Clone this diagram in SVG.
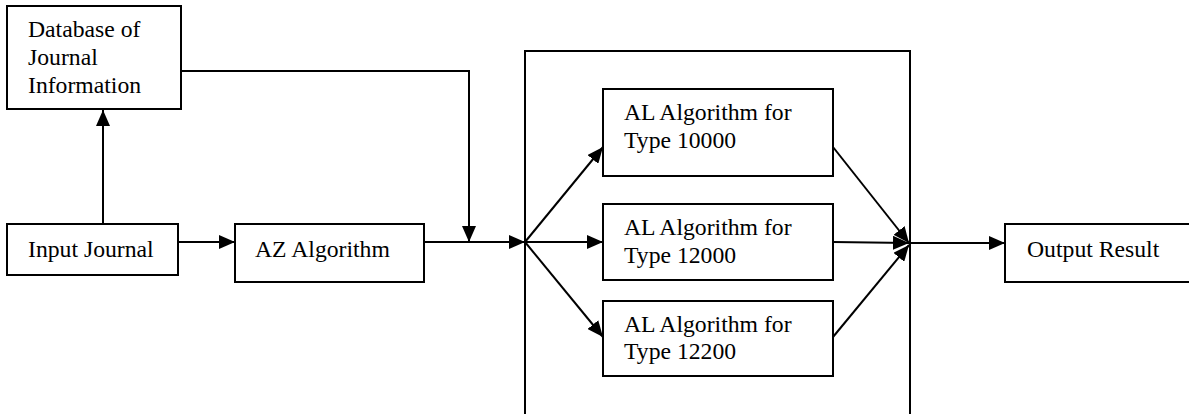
<svg xmlns="http://www.w3.org/2000/svg" width="1189" height="414" viewBox="0 0 1189 414">
<defs>
<style>
.box{fill:#fff;stroke:#000;stroke-width:2}
.ln{fill:none;stroke:#000;stroke-width:2}
.t{font-family:'Liberation Serif','Times New Roman','DejaVu Serif',serif;font-size:23.7px;fill:#000}
</style>
<marker id="ah" markerUnits="userSpaceOnUse" markerWidth="16" markerHeight="14" refX="16" refY="7" orient="auto">
<path d="M0,0 L16,7 L0,14 Z" fill="#000"/>
</marker>
</defs>
<rect width="1189" height="414" fill="#fff"/>
<g id="container"><rect class="box" x="525" y="51" width="385" height="380"/></g>
<g id="db"><rect class="box" x="7" y="6" width="174" height="103"/>
<text class="t" x="28" y="37">Database of</text><text class="t" x="28" y="65">Journal</text><text class="t" x="28" y="93">Information</text></g>
<g id="input"><rect class="box" x="7" y="224" width="171" height="51"/><text class="t" x="28" y="257">Input Journal</text></g>
<g id="az"><rect class="box" x="235" y="224" width="189" height="58"/><text class="t" x="255" y="257">AZ Algorithm</text></g>
<g id="al1"><rect class="box" x="603" y="89" width="230" height="87"/><text class="t" x="624" y="120">AL Algorithm for</text><text class="t" x="624" y="148">Type 10000</text></g>
<g id="al2"><rect class="box" x="603" y="204" width="230" height="76"/><text class="t" x="624" y="235">AL Algorithm for</text><text class="t" x="624" y="263">Type 12000</text></g>
<g id="al3"><rect class="box" x="603" y="301" width="230" height="75"/><text class="t" x="624" y="332">AL Algorithm for</text><text class="t" x="624" y="359">Type 12200</text></g>
<g id="output"><rect class="box" x="1005" y="224" width="190" height="58"/><text class="t" x="1027" y="257">Output Result</text></g>
<g id="connectors">
<line class="ln" x1="103" y1="224" x2="103" y2="110" marker-end="url(#ah)"/>
<polyline class="ln" points="181,71 469,71 469,242" marker-end="url(#ah)"/>
<line class="ln" x1="178" y1="242" x2="235" y2="242" marker-end="url(#ah)"/>
<line class="ln" x1="424" y1="242" x2="525" y2="242" marker-end="url(#ah)"/>
<line class="ln" x1="525" y1="242" x2="603" y2="147" marker-end="url(#ah)"/>
<line class="ln" x1="525" y1="242" x2="603" y2="242" marker-end="url(#ah)"/>
<line class="ln" x1="525" y1="242" x2="603" y2="337" marker-end="url(#ah)"/>
<line class="ln" x1="833" y1="147" x2="909" y2="243" marker-end="url(#ah)"/>
<line class="ln" x1="833" y1="242" x2="909" y2="243" marker-end="url(#ah)"/>
<line class="ln" x1="833" y1="337" x2="909" y2="245" marker-end="url(#ah)"/>
<line class="ln" x1="910" y1="243" x2="1005" y2="243" marker-end="url(#ah)"/>
</g>
</svg>
